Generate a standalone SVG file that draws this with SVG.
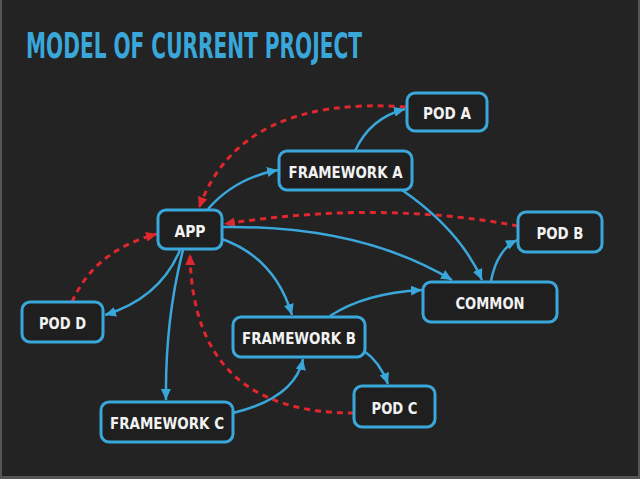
<svg xmlns="http://www.w3.org/2000/svg" width="640" height="479" viewBox="0 0 640 479">
<defs>
<style>
.bg{fill:#232323}
.box{fill:#1f1f1f;stroke:#3aa7db;stroke-width:3}
.lbl{fill:#f2f2f2;font-family:"DejaVu Sans Condensed","DejaVu Sans",sans-serif;font-weight:bold;font-size:16px;text-anchor:middle}
.title{fill:#3aa7db;font-family:"DejaVu Sans Condensed","DejaVu Sans",sans-serif;font-weight:bold;font-size:35px}
.dep{fill:none;stroke:#3aa7db;stroke-width:2.5;marker-end:url(#ab)}
.back{fill:none;stroke:#e0272d;stroke-width:3;stroke-dasharray:6 5;marker-end:url(#ar)}
</style>
<marker id="ab" markerUnits="userSpaceOnUse" markerWidth="12" markerHeight="10" refX="11" refY="5" orient="auto"><path d="M0,0 L11,5 L0,10 z" fill="#3aa7db"/></marker>
<marker id="ar" markerUnits="userSpaceOnUse" markerWidth="12" markerHeight="10" refX="11" refY="5" orient="auto"><path d="M0,0 L11,5 L0,10 z" fill="#e0272d"/></marker>
</defs>
<rect x="0" y="0" width="640" height="479" fill="#555"/>
<rect class="bg" x="2" y="0" width="636" height="476"/>
<text class="title" x="26" y="58" textLength="336" lengthAdjust="spacingAndGlyphs">MODEL OF CURRENT PROJECT</text>
<g id="connectors">
<path class="back" d="M406,107 Q240,95 199,208"/>
<path class="back" d="M518,226 Q380,200 224,224"/>
<path class="back" d="M72,302 Q95,250 157,234"/>
<path class="back" d="M354,413 C250,413 192,365 190,254"/>
<path class="dep" d="M208,209 Q235,178 278,170"/>
<path class="dep" d="M355,151 Q370,118 405,109"/>
<path class="dep" d="M402,190 Q460,230 482,280"/>
<path class="dep" d="M222,227 Q360,225 452,280"/>
<path class="dep" d="M491,281 Q497,250 517,240"/>
<path class="dep" d="M222,239 Q275,258 292,315"/>
<path class="dep" d="M330,316 Q365,293 422,290"/>
<path class="dep" d="M364,351 Q380,362 388,384"/>
<path class="dep" d="M180,250 Q160,298 105,315"/>
<path class="dep" d="M183,250 Q165,320 166,400"/>
<path class="dep" d="M233,413 Q295,398 303,359"/>
</g>
<g id="pod-a"><rect class="box" x="407" y="93" width="80" height="38" rx="8"/><text class="lbl" x="447" y="119" textLength="48" lengthAdjust="spacingAndGlyphs">POD A</text></g>
<g id="framework-a"><rect class="box" x="279" y="151" width="133" height="39" rx="8"/><text class="lbl" x="345.5" y="177.5" textLength="114" lengthAdjust="spacingAndGlyphs">FRAMEWORK A</text></g>
<g id="app"><rect class="box" x="158" y="210" width="64" height="39" rx="8"/><text class="lbl" x="190" y="236.5" textLength="31" lengthAdjust="spacingAndGlyphs">APP</text></g>
<g id="pod-b"><rect class="box" x="518" y="212" width="84" height="40" rx="8"/><text class="lbl" x="560" y="239" textLength="47" lengthAdjust="spacingAndGlyphs">POD B</text></g>
<g id="common"><rect class="box" x="423" y="282" width="134" height="40" rx="8"/><text class="lbl" x="490" y="309" textLength="69" lengthAdjust="spacingAndGlyphs">COMMON</text></g>
<g id="pod-d"><rect class="box" x="22" y="302" width="81" height="40" rx="8"/><text class="lbl" x="62.5" y="329" textLength="47" lengthAdjust="spacingAndGlyphs">POD D</text></g>
<g id="framework-b"><rect class="box" x="233" y="317" width="132" height="40" rx="8"/><text class="lbl" x="299" y="344" textLength="114" lengthAdjust="spacingAndGlyphs">FRAMEWORK B</text></g>
<g id="pod-c"><rect class="box" x="354" y="386" width="81" height="41" rx="8"/><text class="lbl" x="394.5" y="413.5" textLength="46" lengthAdjust="spacingAndGlyphs">POD C</text></g>
<g id="framework-c"><rect class="box" x="101" y="402" width="132" height="40" rx="8"/><text class="lbl" x="167" y="429" textLength="114" lengthAdjust="spacingAndGlyphs">FRAMEWORK C</text></g>
</svg>
